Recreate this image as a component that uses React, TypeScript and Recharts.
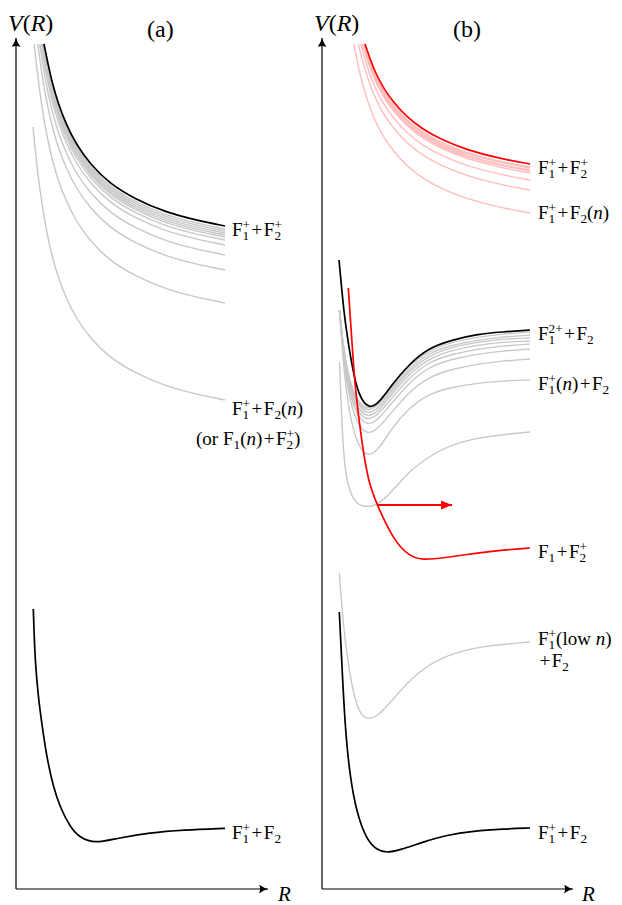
import React from 'react';
import { LineChart, Line, XAxis, YAxis, ReferenceLine } from 'recharts';

// r = separation R (arb. units), v = potential V(R) (arb. units)
type Pt = [number, number];
const rows = (pts: Pt[]) => pts.map(([r, v]) => ({ r, v }));

// ---------- panel (a) ----------
const aIonPairBlack: Pt[] = [[2.8, 84.5], [3.2, 82.5], [3.6, 80.7], [4.2, 78.6], [5.0, 76.5], [6.0, 74.5], [7.4, 72.5], [9.4, 70.5], [11.9, 69.0], [14.9, 67.7], [17.9, 66.9], [20.9, 66.3]];
const aRydberg: Pt[][] = [
  [[2.76, 84.5], [3.2, 82.2], [3.6, 80.4], [4.2, 78.3], [5.0, 76.2], [6.0, 74.2], [7.4, 72.2], [9.4, 70.2], [11.9, 68.7], [14.9, 67.4], [17.9, 66.6], [20.9, 66.0]],
  [[2.73, 84.5], [3.2, 82.0], [3.6, 80.2], [4.2, 78.1], [5.0, 76.0], [6.0, 74.0], [7.4, 72.0], [9.4, 70.0], [11.9, 68.5], [14.9, 67.2], [17.9, 66.4], [20.9, 65.8]],
  [[2.69, 84.5], [2.8, 83.9], [3.2, 81.8], [3.6, 80.0], [4.2, 77.9], [5.0, 75.8], [6.0, 73.8], [7.4, 71.8], [9.4, 69.8], [11.9, 68.3], [14.9, 67.0], [17.9, 66.2], [20.9, 65.6]],
  [[2.66, 84.5], [2.8, 83.7], [3.2, 81.6], [3.6, 79.8], [4.2, 77.7], [5.0, 75.6], [6.0, 73.6], [7.4, 71.6], [9.4, 69.6], [11.9, 68.1], [14.9, 66.8], [17.9, 66.0], [20.9, 65.4]],
  [[2.63, 84.5], [2.8, 83.5], [3.2, 81.4], [3.6, 79.6], [4.2, 77.5], [5.0, 75.4], [6.0, 73.4], [7.4, 71.4], [9.4, 69.4], [11.9, 67.9], [14.9, 66.6], [17.9, 65.8], [20.9, 65.2]],
  [[2.58, 84.5], [2.8, 83.2], [3.2, 81.1], [3.6, 79.3], [4.2, 77.2], [5.0, 75.1], [6.0, 73.1], [7.4, 71.1], [9.4, 69.1], [11.9, 67.6], [14.9, 66.3], [17.9, 65.5], [20.9, 64.9]],
  [[2.51, 84.5], [2.8, 82.7], [3.2, 80.6], [3.6, 78.8], [4.2, 76.7], [5.0, 74.6], [6.0, 72.6], [7.4, 70.6], [9.4, 68.6], [11.9, 67.1], [14.9, 65.8], [17.9, 65.0], [20.9, 64.4]],
  [[2.37, 84.5], [2.8, 81.7], [3.2, 79.6], [3.6, 77.8], [4.2, 75.7], [5.0, 73.6], [6.0, 71.6], [7.4, 69.6], [9.4, 67.6], [11.9, 66.1], [14.9, 64.8], [17.9, 64.0], [20.9, 63.4]],
  [[2.18, 84.5], [2.6, 81.4], [2.8, 80.2], [3.2, 78.1], [3.6, 76.3], [4.2, 74.2], [5.0, 72.1], [6.0, 70.1], [7.4, 68.1], [9.4, 66.1], [11.9, 64.6], [14.9, 63.3], [17.9, 62.5], [20.9, 61.9]],
  [[1.82, 84.5], [2.0, 82.8], [2.4, 79.5], [2.8, 76.9], [3.2, 74.8], [3.6, 73.0], [4.2, 70.9], [5.0, 68.8], [6.0, 66.8], [7.4, 64.8], [9.4, 62.8], [11.9, 61.3], [14.9, 60.0], [17.9, 59.2], [20.9, 58.6]],
  [[1.7, 76.2], [2.0, 73.1], [2.4, 69.8], [2.8, 67.2], [3.2, 65.1], [3.6, 63.3], [4.2, 61.2], [5.0, 59.1], [6.0, 57.1], [7.4, 55.1], [9.4, 53.1], [11.9, 51.6], [14.9, 50.3], [17.9, 49.5], [20.9, 48.9]],
];
const aGround: Pt[] = [[1.73, 28.0], [1.8, 25.9], [1.93, 22.6], [2.23, 19.2], [2.57, 16.6], [3.07, 13.2], [3.73, 10.2], [4.4, 8.2], [5.4, 6.2], [6.4, 5.1], [7.9, 4.55], [10.07, 5.07], [13.4, 5.63], [16.73, 5.9], [20.9, 6.07]];

// ---------- panel (b) ----------
const bIonPairRed: Pt[] = [[4.3, 84.5], [4.8, 83.0], [5.4, 81.5], [6.2, 80.0], [7.2, 78.6], [8.5, 77.2], [10.0, 76.0], [12.0, 74.9], [14.5, 73.9], [17.5, 73.1], [20.8, 72.5]];
const bRydbergPink: Pt[][] = [
  [[4.21, 84.5], [4.4, 83.9], [4.8, 82.7], [5.4, 81.2], [6.2, 79.7], [7.2, 78.3], [8.5, 76.9], [10.0, 75.7], [12.0, 74.6], [14.5, 73.6], [17.5, 72.8], [20.8, 72.2]],
  [[4.17, 84.5], [4.4, 83.7], [4.8, 82.5], [5.4, 81.1], [6.2, 79.6], [7.2, 78.1], [8.5, 76.7], [10.0, 75.6], [12.0, 74.4], [14.5, 73.5], [17.5, 72.7], [20.8, 72.1]],
  [[4.13, 84.5], [4.4, 83.6], [4.8, 82.4], [5.4, 80.9], [6.2, 79.4], [7.2, 78.0], [8.5, 76.6], [10.0, 75.4], [12.0, 74.3], [14.5, 73.3], [17.5, 72.5], [20.8, 71.9]],
  [[4.09, 84.5], [4.4, 83.4], [4.8, 82.2], [5.4, 80.8], [6.2, 79.3], [7.2, 77.8], [8.5, 76.4], [10.0, 75.3], [12.0, 74.1], [14.5, 73.2], [17.5, 72.4], [20.8, 71.8]],
  [[4.05, 84.5], [4.4, 83.3], [4.8, 82.1], [5.4, 80.6], [6.2, 79.1], [7.2, 77.7], [8.5, 76.3], [10.0, 75.1], [12.0, 74.0], [14.5, 73.0], [17.5, 72.2], [20.8, 71.6]],
  [[3.87, 84.5], [4.4, 82.6], [4.8, 81.4], [5.4, 79.9], [6.2, 78.4], [7.2, 77.0], [8.5, 75.6], [10.0, 74.4], [12.0, 73.3], [14.5, 72.3], [17.5, 71.5], [20.8, 70.9]],
  [[3.63, 84.5], [4.0, 83.0], [4.4, 81.6], [4.8, 80.4], [5.4, 78.9], [6.2, 77.4], [7.2, 76.0], [8.5, 74.6], [10.0, 73.4], [12.0, 72.3], [14.5, 71.3], [17.5, 70.5], [20.8, 69.9]],
  [[3.19, 84.5], [3.6, 82.4], [4.0, 80.7], [4.4, 79.3], [4.8, 78.1], [5.4, 76.6], [6.2, 75.1], [7.2, 73.7], [8.5, 72.3], [10.0, 71.1], [12.0, 70.0], [14.5, 69.0], [17.5, 68.2], [20.8, 67.6]],
];
const bDicationBlack: Pt[] = [[1.7, 62.9], [2.0, 59.7], [2.3, 56.7], [2.97, 52.4], [3.63, 49.4], [4.63, 48.0], [5.63, 48.5], [6.97, 50.4], [8.63, 52.4], [10.63, 54.1], [12.97, 54.9], [15.63, 55.5], [17.97, 55.7], [20.8, 55.9]];
const bWellGrey: Pt[][] = [
  [[1.75, 57.9], [2.1, 54.4], [2.6, 51.5], [3.2, 49.5], [3.9, 48.4], [4.6, 48.0], [5.6, 48.5], [6.9, 50.1], [8.6, 52.2], [10.6, 53.8], [13.0, 54.7], [15.6, 55.2], [18.0, 55.5], [20.8, 55.7]],
  [[1.75, 57.9], [2.1, 54.4], [2.6, 51.3], [3.2, 49.3], [3.9, 48.2], [4.6, 47.8], [5.6, 48.3], [6.9, 49.9], [8.6, 51.9], [10.6, 53.6], [13.0, 54.4], [15.6, 54.9], [18.0, 55.2], [20.8, 55.4]],
  [[1.75, 57.9], [2.1, 54.3], [2.6, 51.2], [3.2, 49.1], [3.9, 48.0], [4.6, 47.5], [5.6, 48.0], [6.9, 49.7], [8.6, 51.7], [10.6, 53.3], [13.0, 54.2], [15.6, 54.7], [18.0, 55.0], [20.8, 55.1]],
  [[1.75, 57.9], [2.1, 54.2], [2.6, 51.0], [3.2, 48.8], [3.9, 47.7], [4.6, 47.2], [5.6, 47.7], [6.9, 49.4], [8.6, 51.4], [10.6, 53.0], [13.0, 53.9], [15.6, 54.4], [18.0, 54.7], [20.8, 54.8]],
  [[1.75, 57.9], [2.1, 54.0], [2.6, 50.7], [3.2, 48.5], [3.9, 47.3], [4.6, 46.9], [5.6, 47.4], [6.9, 49.0], [8.6, 51.0], [10.6, 52.7], [13.0, 53.5], [15.6, 54.0], [18.0, 54.3], [20.8, 54.5]],
  [[1.75, 57.9], [2.1, 53.9], [2.6, 50.4], [3.2, 48.1], [3.9, 46.9], [4.6, 46.4], [5.6, 46.9], [6.9, 48.5], [8.6, 50.5], [10.6, 52.2], [13.0, 53.0], [15.6, 53.5], [18.0, 53.8], [20.8, 54.0]],
  [[1.75, 57.9], [2.1, 53.6], [2.6, 49.8], [3.2, 47.4], [3.9, 46.0], [4.6, 45.5], [5.6, 46.0], [6.9, 47.6], [8.6, 49.6], [10.6, 51.2], [13.0, 52.0], [15.6, 52.5], [18.0, 52.8], [20.8, 53.0]],
  [[1.75, 57.9], [2.1, 52.8], [2.6, 48.4], [3.2, 45.5], [3.9, 43.9], [4.6, 43.3], [5.6, 43.8], [6.9, 46.0], [8.6, 48.0], [10.6, 49.5], [13.0, 50.2], [15.6, 50.6], [18.0, 50.8], [20.8, 50.9]],
  [[1.75, 52.7], [2.0, 46.0], [2.3, 41.7], [2.8, 39.7], [3.3, 38.7], [4.0, 38.2], [5.6, 38.3], [6.9, 39.7], [8.0, 40.9], [9.0, 42.0], [11.3, 43.7], [14.6, 45.1], [20.8, 45.7]],
];
const bChargeTransfer: Pt[] = [[2.63, 60.1], [2.97, 55.1], [3.3, 50.1], [3.97, 44.7], [4.63, 40.7], [5.47, 38.5], [7.13, 34.9], [8.8, 33.2], [10.13, 32.9], [12.13, 33.1], [15.47, 33.6], [18.13, 33.9], [20.8, 34.1]];
const bArrowR: [number, number] = [5.6, 13.0];
const bArrowV = 38.4;
const bLowN: Pt[] = [[1.73, 31.6], [2.13, 26.2], [2.8, 21.2], [3.47, 18.2], [4.13, 17.2], [4.63, 17.0], [5.47, 17.2], [6.8, 18.6], [8.47, 20.6], [10.8, 22.6], [13.47, 23.7], [16.13, 24.3], [20.8, 24.7]];
const bGround: Pt[] = [[1.73, 27.7], [1.97, 22.9], [2.3, 16.2], [2.8, 11.2], [3.47, 7.6], [4.47, 4.9], [5.47, 3.9], [6.47, 3.6], [7.8, 3.9], [10.13, 4.7], [12.47, 5.4], [15.13, 5.8], [18.13, 6.0], [20.8, 6.1]];

const SERIF = '"Liberation Serif", "DejaVu Serif", serif';
const GREY = '#c8c8c8';
const PINK = '#ffbdbd';
const RED = '#ff0000';

type Tok = string | { i: string } | { sub?: string; sup?: string };

function Tex({ x, y, size, toks }: { x: number; y: number; size: number; toks: Tok[] }) {
  const s = size * 0.7;
  const up = -size * 0.36;
  const down = size * 0.22;
  const parts: React.ReactNode[] = [];
  let cur = 0;
  let pad = 0;
  toks.forEach((t, k) => {
    if (typeof t === 'string') {
      // binary "+" gets a little room on both sides, like TeX
      t.split(/(\+)/).filter((p) => p !== '').forEach((p, j) => {
        const isOp = p === '+';
        parts.push(
          <tspan key={k + '-' + j} dx={isOp ? 1.5 + pad : pad} dy={-cur}>
            {p}
          </tspan>
        );
        cur = 0;
        pad = isOp ? 1.5 : 0;
      });
    } else if ('i' in t) {
      parts.push(<tspan key={k} dx={pad} dy={-cur} fontStyle="italic">{t.i}</tspan>);
      cur = 0;
      pad = 0;
    } else {
      if (t.sub) {
        parts.push(<tspan key={k + 'b'} dx={pad} dy={down - cur} fontSize={s}>{t.sub}</tspan>);
        cur = down;
        pad = 0;
      }
      if (t.sup) {
        const dx = t.sub ? -s * 0.5 * t.sub.length : pad;
        parts.push(<tspan key={k + 'p'} dx={dx} dy={up - cur} fontSize={s}>{t.sup}</tspan>);
        cur = up;
        pad = 0;
      }
    }
  });
  return (
    <text x={x} y={y} fontSize={size} fontFamily={SERIF} fill="#000">
      {parts}
    </text>
  );
}

const curve = (pts: Pt[], color: string, w: number, key: string) => (
  <Line
    key={key}
    data={rows(pts)}
    dataKey="v"
    type="basis"
    stroke={color}
    strokeWidth={w}
    dot={false}
    activeDot={false}
    isAnimationActive={false}
  />
);

const V_MAX = 85.1;

function Panel({ id, left, right, xMax, children }: { id: string; left: number; right: number; xMax: number; children: React.ReactNode }) {
  return (
    <div style={{ position: 'absolute', left: 0, top: 0 }}>
      <LineChart width={622} height={905} margin={{ top: 38, bottom: 16, left, right }}>
        <defs>
          <marker id={id} markerUnits="userSpaceOnUse" markerWidth={10} markerHeight={10} refX={9} refY={4.5} orient="auto">
            <path d="M0,0 Q5,3.6 9,4.5 Q5,5.4 0,9 Q2.2,4.5 0,0 Z" fill="#000" />
          </marker>
          <marker id={id + 'red'} markerUnits="userSpaceOnUse" markerWidth={12} markerHeight={12} refX={11} refY={5} orient="auto">
            <path d="M0,0.5 L11,5 L0,9.5 Z" fill={RED} />
          </marker>
        </defs>
        <XAxis type="number" dataKey="r" domain={[0, xMax]} hide />
        <YAxis type="number" domain={[0, V_MAX]} hide />
        <ReferenceLine
          segment={[{ x: 0, y: 0 }, { x: xMax, y: 0 }]}
          stroke="#000"
          strokeWidth={1.2}
          markerEnd={`url(#${id})`}
          ifOverflow="visible"
        />
        <ReferenceLine
          segment={[{ x: 0, y: 0 }, { x: 0, y: V_MAX }]}
          stroke="#000"
          strokeWidth={1.2}
          markerEnd={`url(#${id})`}
          ifOverflow="visible"
        />
        {children}
      </LineChart>
    </div>
  );
}

export default function App() {
  return (
    <div style={{ position: 'absolute', left: 0, top: 0, width: 622, height: 905, background: '#fff' }}>
      <Panel id="axA" left={16} right={354} xMax={25.2}>
        {aRydberg.map((c, k) => curve(c, GREY, 1.4, 'ag' + k))}
        {curve(aIonPairBlack, '#000', 1.7, 'aion')}
        {curve(aGround, '#000', 1.7, 'aground')}
        <Tex x={8} y={31} size={24} toks={[{ i: 'V' }, '(', { i: 'R' }, ')']} />
        <Tex x={147} y={37} size={24} toks={['(a)']} />
        <Tex x={278} y={901} size={21} toks={[{ i: 'R' }]} />
        <Tex x={232} y={236} size={19} toks={['F', { sub: '1', sup: '+' }, '+F', { sub: '2', sup: '+' }]} />
        <Tex x={232} y={415} size={19} toks={['F', { sub: '1', sup: '+' }, '+F', { sub: '2' }, '(', { i: 'n' }, ')']} />
        <Tex x={196} y={445} size={19} toks={['(or F', { sub: '1' }, '(', { i: 'n' }, ')+F', { sub: '2', sup: '+' }, ')']} />
        <Tex x={232} y={839} size={19} toks={['F', { sub: '1', sup: '+' }, '+F', { sub: '2' }]} />
      </Panel>
      <Panel id="axB" left={322} right={49} xMax={25.1}>
        {bRydbergPink.map((c, k) => curve(c, PINK, 1.4, 'bp' + k))}
        {curve(bIonPairRed, RED, 1.7, 'bion')}
        {bWellGrey.map((c, k) => curve(c, GREY, 1.4, 'bg' + k))}
        {curve(bDicationBlack, '#000', 1.7, 'bdi')}
        {curve(bLowN, GREY, 1.4, 'blow')}
        {curve(bGround, '#000', 1.7, 'bground')}
        {curve(bChargeTransfer, RED, 1.7, 'bct')}
        <ReferenceLine
          segment={[{ x: bArrowR[0], y: bArrowV }, { x: bArrowR[1], y: bArrowV }]}
          stroke={RED}
          strokeWidth={2}
          markerEnd="url(#axBred)"
          ifOverflow="visible"
        />
        <Tex x={314} y={31} size={24} toks={[{ i: 'V' }, '(', { i: 'R' }, ')']} />
        <Tex x={453} y={37} size={24} toks={['(b)']} />
        <Tex x={582} y={901} size={21} toks={[{ i: 'R' }]} />
        <Tex x={538} y={174} size={19} toks={['F', { sub: '1', sup: '+' }, '+F', { sub: '2', sup: '+' }]} />
        <Tex x={538} y={219} size={19} toks={['F', { sub: '1', sup: '+' }, '+F', { sub: '2' }, '(', { i: 'n' }, ')']} />
        <Tex x={538} y={340} size={19} toks={['F', { sub: '1', sup: '2+' }, '+F', { sub: '2' }]} />
        <Tex x={538} y={390} size={19} toks={['F', { sub: '1', sup: '+' }, '(', { i: 'n' }, ')+F', { sub: '2' }]} />
        <Tex x={538} y={558} size={19} toks={['F', { sub: '1' }, '+F', { sub: '2', sup: '+' }]} />
        <Tex x={538} y={645} size={19} toks={['F', { sub: '1', sup: '+' }, '(low ', { i: 'n' }, ')']} />
        <Tex x={538} y={667} size={19} toks={['+F', { sub: '2' }]} />
        <Tex x={538} y={839} size={19} toks={['F', { sub: '1', sup: '+' }, '+F', { sub: '2' }]} />
      </Panel>
    </div>
  );
}
